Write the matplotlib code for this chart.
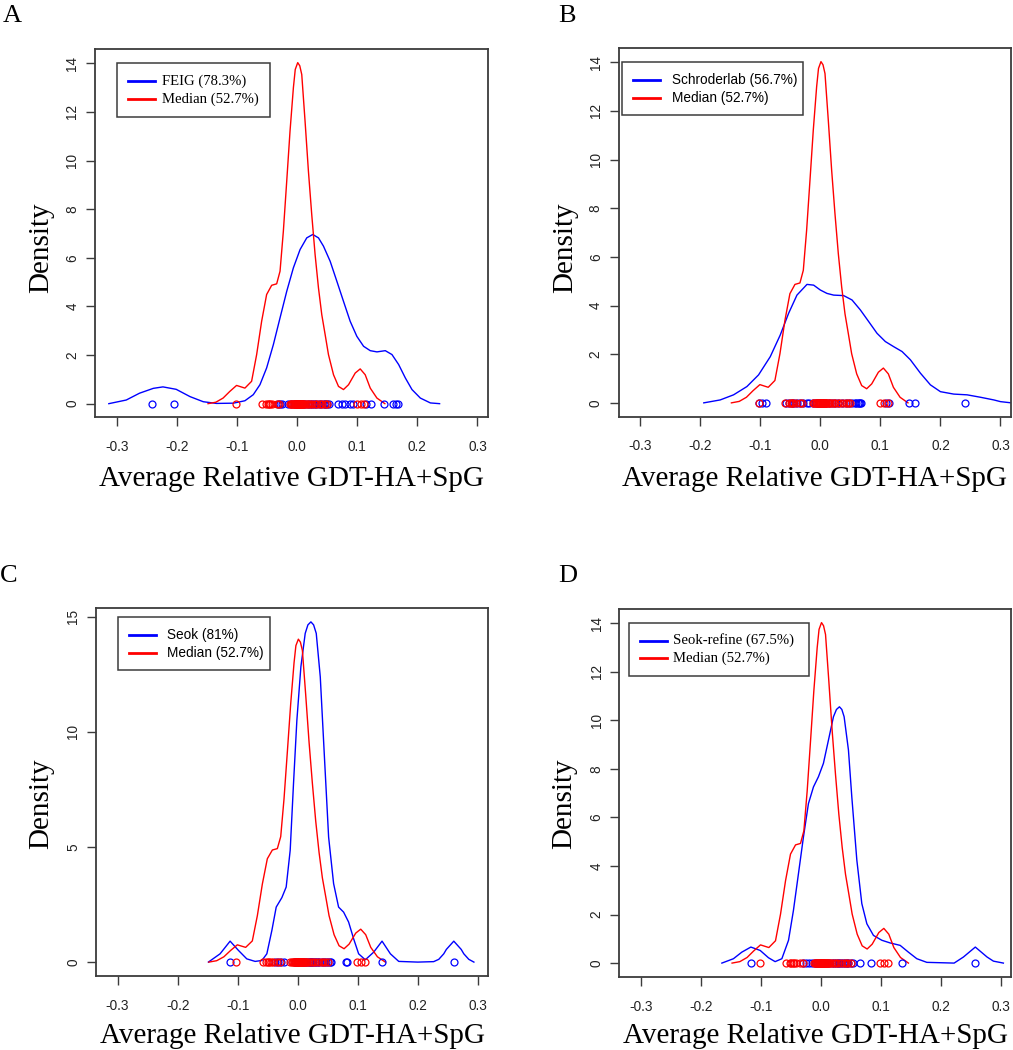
import matplotlib
matplotlib.use("Agg")
import matplotlib.pyplot as plt
from matplotlib.patches import Rectangle
from matplotlib.lines import Line2D

# ---------------- data ----------------
median_label = "Median (52.7%)"
group_labels = ["FEIG (78.3%)", "Schroderlab (56.7%)", "Seok (81%)", "Seok-refine (67.5%)"]
panel_letters = ["A", "B", "C", "D"]

# density curve of the median predictor (same in every panel)
median_x = [-0.148, -0.135, -0.123, -0.112, -0.1006, -0.0867, -0.0756, -0.0672, -0.0589,
            -0.0506, -0.0422, -0.0339, -0.0283, -0.0228, -0.0172, -0.0117, -0.0061, -0.003,
            0.0011, 0.0045, 0.0078, 0.0133, 0.0189, 0.0244, 0.0300, 0.0356, 0.0411, 0.0467,
            0.0522, 0.0606, 0.0689, 0.0772, 0.0856, 0.0967, 0.1050, 0.1133, 0.1217, 0.1328, 0.1460]
median_y = [0.0, 0.06, 0.23, 0.5, 0.75, 0.64, 0.92, 2.02, 3.39,
            4.49, 4.87, 4.93, 5.45, 7.09, 9.15, 11.21, 13.0, 13.75,
            14.03, 13.9, 13.54, 11.62, 9.56, 7.78, 6.13, 4.76, 3.66, 2.84,
            2.02, 1.19, 0.71, 0.58, 0.78, 1.26, 1.43, 1.19, 0.64, 0.23, 0.0]

feig_x = [-0.313, -0.284, -0.262, -0.239, -0.223, -0.201, -0.178, -0.156, -0.134, -0.106,
          -0.0867, -0.0728, -0.0617, -0.0506, -0.0394, -0.0283, -0.0172, -0.0061, 0.005,
          0.0161, 0.0261, 0.0356, 0.0439, 0.055, 0.0661, 0.0772, 0.0883, 0.0994, 0.1106,
          0.1217, 0.1328, 0.1467, 0.1578, 0.1689, 0.18, 0.1911, 0.205, 0.2217, 0.237]
feig_y = [0.0, 0.15, 0.43, 0.63, 0.69, 0.59, 0.29, 0.08, 0.01, 0.02,
          0.12, 0.37, 0.78, 1.47, 2.43, 3.53, 4.62, 5.59, 6.34,
          6.82, 6.96, 6.82, 6.48, 5.86, 5.04, 4.21, 3.39, 2.77, 2.36,
          2.18, 2.13, 2.18, 2.02, 1.61, 1.06, 0.58, 0.23, 0.03, 0.0]

schroder_x = [-0.194, -0.1667, -0.1444, -0.1222, -0.1028, -0.0833, -0.0667, -0.0528, -0.0389,
              -0.0222, -0.0111, 0.0, 0.0111, 0.0222, 0.0389, 0.0528, 0.0667, 0.0806, 0.0944,
              0.1083, 0.1222, 0.1361, 0.15, 0.1667, 0.1833, 0.2, 0.2222, 0.2444, 0.2667,
              0.2889, 0.3, 0.318]
schroder_y = [0.0, 0.12, 0.33, 0.67, 1.15, 1.90, 2.79, 3.68, 4.43,
              4.87, 4.84, 4.64, 4.50, 4.43, 4.41, 4.23, 3.82, 3.34, 2.86,
              2.52, 2.31, 2.11, 1.77, 1.22, 0.74, 0.46, 0.36, 0.33, 0.23,
              0.12, 0.05, 0.0]

seok_x = [-0.1488, -0.1293, -0.1126, -0.0988, -0.0848, -0.0709, -0.0597, -0.0514, -0.043,
          -0.0358, -0.0264, -0.0192, -0.0125, -0.007, -0.0014, 0.0053, 0.0125, 0.017, 0.022,
          0.0265, 0.0309, 0.0376, 0.0448, 0.0515, 0.0598, 0.0681, 0.0765, 0.0848, 0.0932, 0.1015,
          0.1126, 0.1265, 0.1405, 0.1544, 0.1683, 0.20, 0.2265, 0.235, 0.2433, 0.2476,
          0.26, 0.2724, 0.2767, 0.285, 0.2935]
seok_y = [0.0, 0.36, 0.91, 0.51, 0.14, 0.03, 0.07, 0.36, 1.38,
          2.39, 2.80, 3.26, 4.86, 7.75, 10.5, 12.83, 14.28, 14.65, 14.78,
          14.65, 14.28, 12.39, 8.77, 5.43, 3.41, 2.39, 2.17, 1.74, 1.01, 0.36,
          0.10, 0.43, 0.91, 0.36, 0.03, 0.0, 0.02, 0.12, 0.36, 0.55,
          0.91, 0.55, 0.36, 0.12, 0.0]

seokref_x = [-0.165, -0.1457, -0.1318, -0.1167, -0.1011, -0.0873, -0.0762, -0.065, -0.0539,
             -0.0457, -0.0373, -0.029, -0.0207, -0.0123, -0.004, 0.0043, 0.0127, 0.021, 0.026,
             0.031, 0.035, 0.0388, 0.046, 0.0516, 0.06, 0.0683, 0.0767, 0.0877, 0.1017, 0.1155,
             0.1322, 0.146, 0.16, 0.1767, 0.2222, 0.2377, 0.2575, 0.2771, 0.2877, 0.3043]
seokref_y = [0.0, 0.18, 0.45, 0.66, 0.52, 0.22, 0.06, 0.18, 0.94,
             2.17, 3.69, 5.2, 6.57, 7.26, 7.68, 8.23, 9.19, 10.15, 10.45,
             10.56, 10.45, 10.15, 8.78, 6.85, 4.24, 2.45, 1.62, 1.14, 0.94, 0.83,
             0.73, 0.45, 0.18, 0.03, 0.0, 0.25, 0.66, 0.25, 0.08, 0.0]

# individual values shown as circles on the zero line
median_pts = [-0.102, -0.058, -0.052, -0.049, -0.047, -0.045, -0.041, -0.034, -0.030,
              -0.012, -0.010, -0.008, -0.007, -0.005, -0.004, -0.003, -0.002, -0.001,
              0.000, 0.001, 0.002, 0.003, 0.004, 0.005, 0.006, 0.007, 0.008, 0.009,
              0.010, 0.012, 0.014, 0.016, 0.019, 0.022, 0.025, 0.029, 0.033, 0.038,
              0.042, 0.046, 0.050, 0.099, 0.106, 0.112]
feig_pts = [-0.242, -0.205, -0.032, -0.028, -0.025, -0.015, -0.010, -0.005, 0.0, 0.005,
            0.010, 0.014, 0.018, 0.022, 0.025, 0.028, 0.032, 0.036, 0.040, 0.044, 0.047,
            0.050, 0.053, 0.068, 0.075, 0.080, 0.088, 0.093, 0.115, 0.123, 0.145, 0.160,
            0.165, 0.168]
schroder_pts = [-0.102, -0.097, -0.090, -0.057, -0.052, -0.047, -0.043, -0.038, -0.033,
                -0.028, -0.022, -0.018, -0.012, -0.008, -0.004, 0.0, 0.004, 0.010, 0.015,
                0.020, 0.025, 0.030, 0.036, 0.042, 0.048, 0.053, 0.057, 0.060, 0.062,
                0.064, 0.066, 0.068, 0.110, 0.115, 0.147, 0.157, 0.241]
seok_pts = [-0.113, -0.037, -0.033, -0.028, -0.022, -0.005, 0.0, 0.008, 0.012, 0.015,
            0.018, 0.020, 0.022, 0.024, 0.026, 0.028, 0.030, 0.033, 0.036, 0.040, 0.043,
            0.047, 0.050, 0.053, 0.055, 0.080, 0.082, 0.140, 0.260]
seokref_pts = [-0.117, -0.030, -0.025, -0.020, -0.015, -0.010, -0.006, -0.002, 0.002,
               0.006, 0.010, 0.014, 0.018, 0.022, 0.025, 0.028, 0.031, 0.034, 0.037,
               0.040, 0.043, 0.046, 0.050, 0.054, 0.066, 0.083, 0.136, 0.257]

x_ticks = [-0.3, -0.2, -0.1, 0.0, 0.1, 0.2, 0.3]
x_ticklabels = ["-0.3", "-0.2", "-0.1", "0.0", "0.1", "0.2", "0.3"]
y_ticks_14 = [0, 2, 4, 6, 8, 10, 12, 14]
y_ticks_15 = [0, 5, 10, 15]
x_label = "Average Relative GDT-HA+SpG"
y_label = "Density"

# ---------------- layout / style ----------------
W, H = 1013, 1050
fig = plt.figure(figsize=(W / 100, H / 100), dpi=100)
fig.patch.set_facecolor("white")

SERIF = ["Liberation Serif", "DejaVu Serif"]
SANS = ["Liberation Sans", "DejaVu Sans"]
BLUE = "#0000FF"
RED = "#FF0000"
FRAME = "#3c3c3c"


def fx(X):
    return X / W


def fy(Y):
    return 1 - Y / H


panels = [
    dict(box=(95, 49, 488, 417.3), ylim=(-0.561, 14.59), yt=y_ticks_14,
         cx=feig_x, cy=feig_y, pts=feig_pts, label=group_labels[0],
         letter=(3, 22.5), ylab=(41, 248), xlab_y=486,
         leg=(117, 63.3, 270, 116.7), rows=(81, 99), line=(128, 155), txt=162, lfont=SERIF, lsize=10.6),
    dict(box=(618.5, 48, 1011, 416.5), ylim=(-0.561, 14.59), yt=y_ticks_14,
         cx=schroder_x, cy=schroder_y, pts=schroder_pts, label=group_labels[1],
         letter=(558, 22.5), ylab=(565, 248), xlab_y=486,
         leg=(622, 62, 803, 115.3), rows=(80, 97.7), line=(633, 660), txt=672, lfont=SANS, lsize=9.8),
    dict(box=(96, 608.3, 488.3, 975.7), ylim=(-0.591, 15.37), yt=y_ticks_15,
         cx=seok_x, cy=seok_y, pts=seok_pts, label=group_labels[2],
         letter=(0, 582), ylab=(41.5, 804), xlab_y=1043,
         leg=(117.7, 616.7, 270, 670), rows=(635, 652.5), line=(129, 156), txt=167, lfont=SANS, lsize=9.8),
    dict(box=(619.3, 609, 1011.3, 976.7), ylim=(-0.561, 14.59), yt=y_ticks_14,
         cx=seokref_x, cy=seokref_y, pts=seokref_pts, label=group_labels[3],
         letter=(558, 582), ylab=(564, 804), xlab_y=1043,
         leg=(628.7, 623, 809.3, 676), rows=(640.5, 658), line=(640, 667), txt=673, lfont=SERIF, lsize=10.6),
]

for i, p in enumerate(panels):
    l, t, r, b = p["box"]
    ax = fig.add_axes([fx(l), fy(b), (r - l) / W, (b - t) / H])
    ax.set_xlim(-0.336, 0.3175)
    ax.set_ylim(*p["ylim"])

    ax.plot(p["cx"], p["cy"], color=BLUE, lw=1.0, solid_joinstyle="round")
    ax.plot(median_x, median_y, color=RED, lw=1.0, solid_joinstyle="round")
    ax.plot(p["pts"], [0] * len(p["pts"]), linestyle="none", marker="o", ms=5,
            mfc="none", mec=BLUE, mew=0.9)
    ax.plot(median_pts, [0] * len(median_pts), linestyle="none", marker="o", ms=5,
            mfc="none", mec=RED, mew=0.9)

    for s in ax.spines.values():
        s.set_color(FRAME)
        s.set_linewidth(1.3)

    ax.set_xticks(x_ticks)
    ax.set_xticklabels(x_ticklabels, fontfamily=SANS, fontsize=9.8, color="#222222")
    ax.set_yticks(p["yt"])
    ax.set_yticklabels([str(v) for v in p["yt"]], fontfamily=SANS, fontsize=9.8,
                       color="#222222", rotation=90, va="center")
    ax.tick_params(axis="x", direction="out", length=6.5, width=1.0, color=FRAME, pad=10)
    ax.tick_params(axis="y", direction="out", length=6.5, width=1.0, color=FRAME, pad=4.8)

    # axis titles
    fig.text(fx((l + r) / 2), fy(p["xlab_y"]), x_label, ha="center", va="baseline",
             fontfamily=SERIF, fontsize=21)
    fig.text(fx(p["ylab"][0]), fy(p["ylab"][1]), y_label, ha="center", va="center",
             rotation=90, fontfamily=SERIF, fontsize=21)

    # panel letter
    fig.text(fx(p["letter"][0]), fy(p["letter"][1]), panel_letters[i], ha="left",
             va="baseline", fontfamily=SERIF, fontsize=19)

    # legend box
    ll, lt, lr, lb = p["leg"]
    fig.add_artist(Rectangle((fx(ll), fy(lb)), (lr - ll) / W, (lb - lt) / H,
                             transform=fig.transFigure, fill=False, ec=FRAME, lw=1.1))
    for row_y, col, txt in [(p["rows"][0], BLUE, p["label"]), (p["rows"][1], RED, median_label)]:
        fig.add_artist(Line2D([fx(p["line"][0]), fx(p["line"][1])], [fy(row_y), fy(row_y)],
                              transform=fig.transFigure, color=col, lw=2.0))
        fig.text(fx(p["txt"]), fy(row_y), txt, ha="left", va="center",
                 fontfamily=p["lfont"], fontsize=p["lsize"])

fig.savefig("out.png", dpi=100, facecolor="white")
